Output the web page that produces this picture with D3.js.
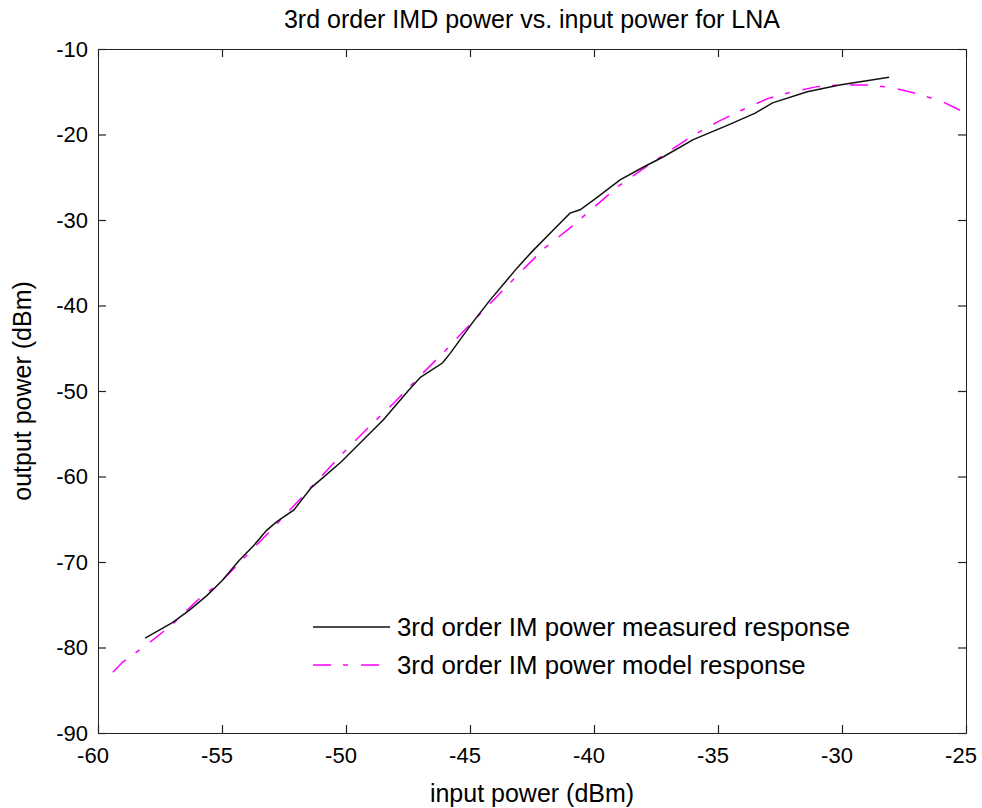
<!DOCTYPE html>
<html>
<head>
<meta charset="utf-8">
<script src="https://cdn.jsdelivr.net/npm/d3@7"></script>
<style>
  html, body { margin: 0; padding: 0; background: #fff; }
  svg { display: block; }
  text { font-family: "Liberation Sans", Arial, sans-serif; fill: #000; }
</style>
</head>
<body>
<svg id="chart" width="982" height="808"></svg>
<script>
// ---- data ----
const measuredX = [-58.1, -57.0, -56.3, -55.6, -55.0, -54.3, -53.7, -53.2, -52.8, -52.1, -51.4, -51.0, -50.2, -49.2, -48.5, -47.5, -47.0, -46.1, -45.8, -44.9, -44.2, -43.5, -43.1, -42.5, -41.65, -40.97, -40.56, -39.9, -38.95, -38.0, -37.2, -36.0, -34.6, -33.5, -32.8, -31.4, -30.1, -29.0, -28.1];
const measuredY = [-78.9, -77.1, -75.6, -73.9, -72.2, -69.8, -68.0, -66.3, -65.3, -63.9, -61.3, -60.3, -58.3, -55.4, -53.4, -50.0, -48.4, -46.7, -45.6, -42.0, -39.4, -37.0, -35.6, -33.7, -31.2, -29.2, -28.8, -27.4, -25.3, -23.8, -22.6, -20.6, -18.9, -17.5, -16.3, -15.0, -14.2, -13.7, -13.3];

const modelX = [-59.4, -59, -58, -57, -56, -55, -54, -53, -52, -51, -50, -49, -48, -47, -46, -45, -44, -43, -42, -41, -40, -39, -38, -37, -36, -35, -34, -33, -32, -31, -30, -29, -28, -27, -26, -25];
const modelY = [-82.9, -81.7, -79.6, -77.3, -74.5, -72.2, -69.2, -66.2, -63.1, -60.0, -56.9, -54.0, -51.2, -48.2, -45.3, -42.2, -39.2, -36.2, -33.3, -31.0, -28.5, -26.0, -24.0, -22.0, -20.1, -18.5, -17.1, -15.8, -15.0, -14.4, -14.2, -14.2, -14.5, -15.2, -16.1, -17.5];

const xTicks = [-60, -55, -50, -45, -40, -35, -30, -25];
const yTicks = [-90, -80, -70, -60, -50, -40, -30, -20, -10];

const titleText = "3rd order IMD power vs. input power for LNA";
const xLabelText = "input power (dBm)";
const yLabelText = "output power (dBm)";
const legendLabels = ["3rd order IM power measured response", "3rd order IM power model response"];

// ---- layout ----
const W = 982, H = 808;
const m = { left: 98, right: 16, top: 49, bottom: 75 };
const pw = W - m.left - m.right, ph = H - m.top - m.bottom;
const FS_TICK = 22, FS_TEXT = 25, FS_LEG = 25.8;
const svg = d3.select("#chart");
const g = svg.append("g").attr("transform", `translate(${m.left},${m.top})`);

const x = d3.scaleLinear().domain([-60, -25]).range([0, pw]);
const y = d3.scaleLinear().domain([-90, -10]).range([ph, 0]);

const tickLen = 8;
// axes: inside ticks on all four sides
const axB = d3.axisBottom(x).tickValues(xTicks).tickSize(-tickLen).tickFormat("");
const axT = d3.axisTop(x).tickValues(xTicks).tickSize(-tickLen).tickFormat("");
const axL = d3.axisLeft(y).tickValues(yTicks).tickSize(-tickLen).tickFormat("");
const axR = d3.axisRight(y).tickValues(yTicks).tickSize(-tickLen).tickFormat("");
function styleAxis(sel) {
  sel.selectAll("path").attr("stroke", "#222").attr("stroke-width", 1.2);
  sel.selectAll("line").attr("stroke", "#222").attr("stroke-width", 1.2);
}
g.append("g").attr("transform", `translate(0,${ph})`).call(axB).call(styleAxis);
g.append("g").call(axT).call(styleAxis);
g.append("g").call(axL).call(styleAxis);
g.append("g").attr("transform", `translate(${pw},0)`).call(axR).call(styleAxis);
g.selectAll(".domain").attr("shape-rendering", "crispEdges");

// tick labels
g.append("g").selectAll("text").data(xTicks).join("text")
  .attr("x", d => x(d) - 5).attr("y", ph + 30)
  .attr("text-anchor", "middle").attr("font-size", FS_TICK)
  .text(d => String(d));
g.append("g").selectAll("text").data(yTicks).join("text")
  .attr("x", -10).attr("y", d => y(d)).attr("dy", "0.36em")
  .attr("text-anchor", "end").attr("font-size", FS_TICK)
  .text(d => String(d));

// lines
const lineGen = d3.line().x(d => x(d[0])).y(d => y(d[1]));
const measured = measuredX.map((v, i) => [v, measuredY[i]]);
const model = modelX.map((v, i) => [v, modelY[i]]);

g.append("path").datum(model).attr("d", lineGen)
  .attr("fill", "none").attr("stroke", "#ff00ff").attr("stroke-width", 1.5)
  .attr("stroke-dasharray", "18,12,5,13");
g.append("path").datum(measured).attr("d", lineGen)
  .attr("fill", "none").attr("stroke", "#111").attr("stroke-width", 1.5);

// legend
const leg = svg.append("g");
const legRows = [
  { y: 627, color: "#111", dash: null, label: legendLabels[0] },
  { y: 665, color: "#ff00ff", dash: "18,12,5,13", label: legendLabels[1] }
];
legRows.forEach(r => {
  leg.append("line").attr("x1", 313).attr("x2", 390).attr("y1", r.y).attr("y2", r.y)
    .attr("stroke", r.color).attr("stroke-width", 1.5)
    .attr("stroke-dasharray", r.dash);
  leg.append("text").attr("x", 397).attr("y", r.y).attr("dy", "0.36em")
    .attr("font-size", FS_LEG).text(r.label);
});

// title and axis labels
svg.append("text").attr("x", m.left + pw / 2).attr("y", 28)
  .attr("text-anchor", "middle").attr("font-size", FS_TEXT).text(titleText);
svg.append("text").attr("x", m.left + pw / 2).attr("y", 802)
  .attr("text-anchor", "middle").attr("font-size", FS_TEXT).text(xLabelText);
svg.append("text").attr("transform", `translate(31,${m.top + ph / 2}) rotate(-90)`)
  .attr("text-anchor", "middle").attr("font-size", FS_TEXT).text(yLabelText);
</script>
</body>
</html>
